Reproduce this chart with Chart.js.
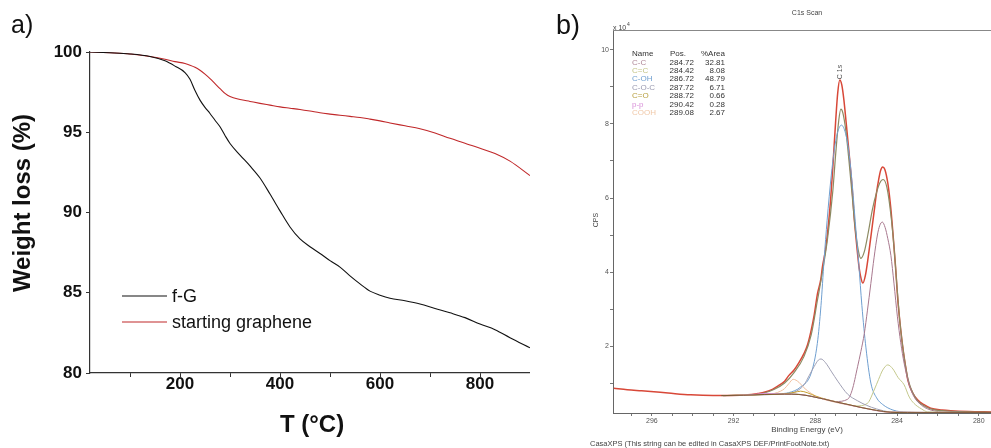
<!DOCTYPE html>
<html>
<head>
<meta charset="utf-8">
<script src="https://cdn.jsdelivr.net/npm/chart.js@4.4.0/dist/chart.umd.min.js"></script>
<style>
  body { margin: 0; background: #fff; width: 991px; height: 448px; overflow: hidden; position: relative; }
  #panelA { position: absolute; left: 0; top: 0; }
  #panelB { position: absolute; left: 530px; top: 0; }
</style>
</head>
<body>
<canvas id="panelA" width="530" height="448"></canvas>
<canvas id="panelB" width="461" height="448"></canvas>
<script>
// ------- Panel a: TGA data -------
const tempC = [20, 60, 100, 140, 170, 190, 210, 220, 230, 240, 250, 260, 270, 280, 290, 300,
  320, 340, 360, 380, 400, 420, 440, 460, 480, 500, 520, 540, 560, 580, 600, 620, 650, 680,
  710, 740, 770, 800, 830, 860, 900];
const fgWeight = [100.0, 99.95, 99.88, 99.72, 99.45, 99.12, 98.72, 98.3, 97.6, 97.0, 96.55,
  96.17, 95.75, 95.34, 94.8, 94.3, 93.58, 92.9, 92.15, 91.15, 90.1, 89.1, 88.35, 87.87, 87.45,
  87.0, 86.6, 86.05, 85.55, 85.1, 84.85, 84.66, 84.5, 84.3, 84.02, 83.75, 83.45, 83.05, 82.7,
  82.2, 81.57];
const grapheneWeight = [100.0, 99.95, 99.88, 99.72, 99.55, 99.4, 99.28, 99.18, 99.05, 98.86,
  98.62, 98.34, 98.03, 97.72, 97.42, 97.22, 97.04, 96.92, 96.8, 96.69, 96.58, 96.5, 96.42,
  96.32, 96.21, 96.13, 96.06, 95.99, 95.92, 95.82, 95.71, 95.58, 95.4, 95.22, 94.95, 94.62,
  94.32, 94.0, 93.68, 93.2, 92.3];
const tempTicks = [100, 200, 300, 400, 500, 600, 700, 800, 900];
const weightTicks = [80, 85, 90, 95, 100];
const seriesNamesA = ["f-G", "starting graphene"];

// ------- Panel b: XPS C1s data (x10^4 CPS) -------
const dataBE = [297.86, 297.2, 296.5, 296.05, 295.2, 294.1, 293.0, 292.1, 291.3, 290.8, 290.5,
  290.1, 289.8, 289.5, 289.3, 289.04, 288.8, 288.55, 288.37, 288.2, 288.05, 287.89, 287.73,
  287.65, 287.5, 287.4, 287.25, 287.14, 287.0, 286.9, 286.8, 286.7, 286.6, 286.5, 286.36,
  286.2, 286.1, 285.95, 285.85, 285.75, 285.67, 285.55, 285.43, 285.28, 285.13, 285.0, 284.9,
  284.8, 284.7, 284.6, 284.45, 284.3, 284.2, 284.08, 283.96, 283.83, 283.7, 283.58, 283.47,
  283.25, 282.98, 282.7, 282.35, 281.8, 281.37, 280.5, 279.4];
const dataCPS = [0.86, 0.82, 0.79, 0.77, 0.73, 0.68, 0.66, 0.66, 0.68, 0.72, 0.75,
  0.83, 0.93, 1.05, 1.2, 1.35, 1.55, 1.8, 2.05, 2.43, 2.85, 3.42, 3.8,
  4.14, 4.6, 5.05, 5.95, 6.84, 8.1, 8.85, 9.19, 9.05, 8.65, 8.1, 7.3,
  6.3, 5.5, 4.6, 4.1, 3.8, 3.7, 3.9, 4.32, 4.95, 5.59, 6.15, 6.49,
  6.75, 6.84, 6.78, 6.4, 5.7, 5.05, 4.2, 3.24, 2.5, 1.89, 1.45, 1.08,
  0.75, 0.54, 0.42, 0.32, 0.27, 0.25, 0.23, 0.22];

const envBE = [292.5, 291.0, 290.5, 290.0, 289.5, 289.04, 288.55, 288.2, 287.89, 287.65, 287.4,
  287.14, 287.0, 286.85, 286.75, 286.65, 286.5, 286.35, 286.2, 286.05, 285.9, 285.77, 285.6,
  285.43, 285.2, 285.0, 284.85, 284.68, 284.5, 284.3, 284.15, 284.0, 283.85, 283.7, 283.55,
  283.4, 283.2, 283.0, 282.6, 282.2, 281.5, 280.5, 279.4];
const envCPS = [0.66, 0.68, 0.73, 0.83, 1.0, 1.28, 1.72, 2.3, 3.25, 4.0, 4.9,
  6.2, 7.2, 8.1, 8.4, 8.3, 7.8, 7.0, 6.1, 5.2, 4.6, 4.37, 4.55,
  5.0, 5.7, 6.15, 6.4, 6.5, 6.3, 5.55, 4.7, 3.6, 2.6, 1.9, 1.35,
  0.98, 0.7, 0.52, 0.36, 0.28, 0.24, 0.22, 0.21];

const bgBE = [292.6, 291.5, 290.5, 289.5, 288.8, 288.2, 287.6, 287.0, 286.4, 285.77, 285.0,
  284.3, 283.5, 279.4];
const bgCPS = [0.66, 0.67, 0.69, 0.7, 0.69, 0.64, 0.57, 0.49, 0.42, 0.34, 0.26,
  0.21, 0.2, 0.2];

const cohBE = [290.5, 289.8, 289.3, 288.7, 288.2, 287.9, 287.72, 287.57, 287.42, 287.22, 287.07,
  286.92, 286.72, 286.52, 286.37, 286.22, 286.02, 285.87, 285.72, 285.52, 285.28, 285.0, 284.7,
  284.2, 283.5, 282.5, 279.4];
const cohCPS = [0.69, 0.71, 0.74, 0.9, 1.27, 2.07, 3.1, 4.32, 5.4, 6.6, 7.3,
  7.75, 7.97, 7.75, 7.3, 6.55, 5.2, 4.2, 3.1, 1.95, 1.0, 0.6, 0.42,
  0.27, 0.21, 0.2, 0.2];

const ccBE = [292.5, 289.0, 287.6, 287.0, 286.42, 286.2, 285.93, 285.77, 285.6, 285.45, 285.28,
  285.12, 284.96, 284.85, 284.72, 284.58, 284.45, 284.3, 284.15, 283.98, 283.82, 283.65, 283.4,
  283.17, 282.8, 282.5, 281.8, 279.4];
const ccCPS = [0.66, 0.7, 0.57, 0.5, 0.56, 0.8, 1.44, 1.85, 2.34, 2.95, 3.69,
  4.4, 5.0, 5.25, 5.35, 5.2, 4.9, 4.45, 3.7, 2.79, 2.1, 1.53, 0.95,
  0.63, 0.4, 0.3, 0.22, 0.2];

const cEqCBE = [292.5, 289.0, 287.6, 287.0, 286.5, 286.0, 285.45, 285.12, 284.9, 284.7, 284.45,
  284.2, 283.95, 283.65, 283.4, 283.17, 282.8, 282.5, 279.4];
const cEqCCPS = [0.66, 0.7, 0.57, 0.49, 0.43, 0.38, 0.45, 0.81, 1.1, 1.35, 1.49,
  1.38, 1.15, 0.95, 0.62, 0.45, 0.3, 0.22, 0.2];

const cocBE = [292.5, 290.0, 289.5, 289.04, 288.8, 288.55, 288.3, 288.05, 287.85, 287.72, 287.5,
  287.2, 286.9, 286.42, 285.93, 285.5, 285.0, 284.3, 279.4];
const cocCPS = [0.66, 0.69, 0.7, 0.75, 0.82, 0.95, 1.2, 1.45, 1.62, 1.65, 1.55,
  1.3, 1.05, 0.7, 0.52, 0.4, 0.3, 0.22, 0.2];

const cooBE = [292.5, 290.5, 289.5, 289.0, 288.72, 288.4, 288.0, 287.4, 286.4, 285.0, 284.3, 279.4];
const cooCPS = [0.66, 0.69, 0.71, 0.75, 0.78, 0.74, 0.65, 0.55, 0.42, 0.26, 0.21, 0.2];

const ppBE = [292.5, 291.2, 290.42, 289.6, 288.8, 288.0, 287.0, 285.77, 284.3, 279.4];
const ppCPS = [0.66, 0.68, 0.72, 0.7, 0.69, 0.62, 0.49, 0.34, 0.21, 0.2];

const coohBE = [292.5, 290.6, 290.3, 290.0, 289.7, 289.5, 289.3, 289.08, 288.8, 288.55, 288.2,
  287.8, 287.4, 286.6, 285.77, 284.3, 279.4];
const coohCPS = [0.66, 0.69, 0.7, 0.72, 0.78, 0.85, 0.98, 1.1, 1.02, 0.87, 0.72,
  0.6, 0.53, 0.43, 0.34, 0.21, 0.2];

const beTicks = [280, 281, 282, 283, 284, 285, 286, 287, 288, 289, 290, 291, 292, 293, 294, 295, 296, 297];
const cpsTicks = [1, 2, 3, 4, 5, 6, 7, 8, 9, 10];

const tableRows = [
  ["C-C", "284.72", "32.81", "#b08898"],
  ["C=C", "284.42", "8.08", "#c4c488"],
  ["C-OH", "286.72", "48.79", "#6f9fd0"],
  ["C-O-C", "287.72", "6.71", "#9a9ab0"],
  ["C=O", "288.72", "0.66", "#b8a040"],
  ["p-p", "290.42", "0.28", "#d890d8"],
  ["COOH", "289.08", "2.67", "#f0c8a8"],
];

// ------- Helpers -------
function pairs(xs, ys) {
  return xs.map((x, i) => ({ x: x, y: ys[i] }));
}

function lineSet(label, xs, ys, color, width) {
  return {
    label: label,
    data: pairs(xs, ys),
    borderColor: color,
    borderWidth: width,
    pointRadius: 0,
    fill: false,
    tension: 0.35,
    cubicInterpolationMode: "monotone",
  };
}

const FONT = '"Liberation Sans", Arial, sans-serif';

// ------- Panel a -------
const tgaDecor = {
  id: "tgaDecor",
  afterDraw(chart) {
    const { ctx } = chart;
    ctx.save();
    ctx.fillStyle = "#111";
    // panel label
    ctx.font = "25px " + FONT;
    ctx.textBaseline = "alphabetic";
    ctx.fillText("a)", 11, 33);
    // axis titles
    ctx.font = "bold 24px " + FONT;
    ctx.textAlign = "center";
    ctx.textBaseline = "middle";
    ctx.fillText("T (°C)", 312, 425);
    ctx.translate(23, 203);
    ctx.rotate(-Math.PI / 2);
    ctx.font = "bold 24px " + FONT;
    ctx.fillText("Weight loss (%)", 0, 0);
    ctx.restore();

    // legend
    ctx.save();
    const colors = ["#111", "#c0282a"];
    const ys = [296, 322];
    ctx.font = "18px " + FONT;
    ctx.textBaseline = "middle";
    seriesNamesA.forEach((name, i) => {
      ctx.strokeStyle = colors[i];
      ctx.lineWidth = 1.2;
      ctx.beginPath();
      ctx.moveTo(122, ys[i]);
      ctx.lineTo(167, ys[i]);
      ctx.stroke();
      ctx.fillStyle = "#111";
      ctx.fillText(name, 172, ys[i] + 1);
    });
    ctx.restore();
  },
};

new Chart(document.getElementById("panelA"), {
  type: "line",
  data: {
    datasets: [
      lineSet(seriesNamesA[0], tempC, fgWeight, "#111", 1.1),
      lineSet(seriesNamesA[1], tempC, grapheneWeight, "#c0282a", 1.1),
    ],
  },
  options: {
    responsive: false,
    animation: false,
    layout: { padding: { top: 52, right: 0, left: 0, bottom: 0 } },
    plugins: { legend: { display: false }, tooltip: { enabled: false } },
    scales: {
      x: {
        type: "linear",
        min: 20,
        max: 900,
        afterBuildTicks: (s) => { s.ticks = tempTicks.map((v) => ({ value: v })); },
        afterFit: (s) => { s.height = 75; },
        grid: { drawOnChartArea: false, drawTicks: true, tickLength: 4, color: "#333" },
        border: { color: "#333", width: 1.2 },
        ticks: {
          padding: -3,
          color: "#111",
          font: { family: FONT, size: 17, weight: "bold" },
          maxRotation: 0,
          callback: (v) => (v % 200 === 0 && v < 900 ? String(v) : ""),
        },
      },
      y: {
        min: 80,
        max: 100,
        afterBuildTicks: (s) => { s.ticks = weightTicks.map((v) => ({ value: v })); },
        afterFit: (s) => { s.width = 90; },
        grid: { drawOnChartArea: false, drawTicks: true, tickLength: 4, color: "#333" },
        border: { color: "#333", width: 1.2 },
        ticks: {
          padding: 4,
          color: "#111",
          font: { family: FONT, size: 17, weight: "bold" },
        },
      },
    },
  },
  plugins: [tgaDecor],
});

// ------- Panel b -------
const xpsDecor = {
  id: "xpsDecor",
  afterDraw(chart) {
    const { ctx, chartArea } = chart;
    ctx.save();
    // frame top line
    ctx.strokeStyle = "#888";
    ctx.lineWidth = 1;
    ctx.beginPath();
    ctx.moveTo(chartArea.left, chartArea.top + 0.5);
    ctx.lineTo(chartArea.right, chartArea.top + 0.5);
    ctx.stroke();

    // panel label
    ctx.fillStyle = "#111";
    ctx.font = "27px " + FONT;
    ctx.fillText("b)", 26, 34);

    ctx.fillStyle = "#444";
    ctx.font = "7px " + FONT;
    ctx.textAlign = "center";
    ctx.textBaseline = "middle";
    ctx.fillText("C1s Scan", 277, 13);
    ctx.font = "8px " + FONT;
    ctx.fillText("Binding Energy (eV)", 277, 430);
    ctx.textAlign = "left";
    ctx.font = "7.5px " + FONT;
    ctx.fillText("CasaXPS (This string can be edited in CasaXPS DEF/PrintFootNote.txt)", 60, 444);
    ctx.font = "7px " + FONT;
    ctx.fillText("x 10", 83, 28);
    ctx.font = "5px " + FONT;
    ctx.fillText("4", 97, 25);

    // rotated labels
    ctx.save();
    ctx.font = "7px " + FONT;
    ctx.textAlign = "center";
    ctx.translate(66, 220);
    ctx.rotate(-Math.PI / 2);
    ctx.fillText("CPS", 0, 0);
    ctx.restore();
    ctx.save();
    ctx.font = "7px " + FONT;
    ctx.fillStyle = "#555";
    ctx.textAlign = "center";
    ctx.translate(chart.scales.x.getPixelForValue(286.8), 72);
    ctx.rotate(-Math.PI / 2);
    ctx.fillText("C 1s", 0, 0);
    ctx.restore();

    // component table
    ctx.font = "8px " + FONT;
    ctx.textBaseline = "middle";
    const top = 54, step = 8.4;
    ctx.fillStyle = "#333";
    ctx.textAlign = "left";
    ctx.fillText("Name", 102, top);
    ctx.fillText("Pos.", 140, top);
    ctx.fillText("%Area", 171, top);
    tableRows.forEach((r, i) => {
      const y = top + step * (i + 1);
      ctx.textAlign = "left";
      ctx.fillStyle = r[3];
      ctx.fillText(r[0], 102, y);
      ctx.fillStyle = "#333";
      ctx.textAlign = "right";
      ctx.fillText(r[1], 164, y);
      ctx.fillText(r[2], 195, y);
    });
    ctx.restore();
  },
};

new Chart(document.getElementById("panelB"), {
  type: "line",
  data: {
    datasets: [
      lineSet("Background", bgBE, bgCPS, "#7a5a30", 1),
      lineSet("p-p", ppBE, ppCPS, "#d890d8", 1),
      lineSet("C=O", cooBE, cooCPS, "#c8a030", 1),
      lineSet("COOH", coohBE, coohCPS, "#f0c0a0", 1),
      lineSet("C-O-C", cocBE, cocCPS, "#a0a0b4", 1),
      lineSet("C=C", cEqCBE, cEqCCPS, "#c4c88c", 1),
      lineSet("C-C", ccBE, ccCPS, "#a8788e", 1),
      lineSet("C-OH", cohBE, cohCPS, "#6f9fd0", 1),
      lineSet("Envelope", envBE, envCPS, "#8c8a62", 1.2),
      lineSet("Data", dataBE, dataCPS, "#d84838", 1.5),
    ],
  },
  options: {
    responsive: false,
    animation: false,
    layout: { padding: { top: 30, right: 0, left: 0, bottom: 0 } },
    plugins: { legend: { display: false }, tooltip: { enabled: false } },
    scales: {
      x: {
        type: "linear",
        reverse: true,
        min: 279.4,
        max: 297.9,
        afterBuildTicks: (s) => { s.ticks = beTicks.map((v) => ({ value: v })); },
        afterFit: (s) => { s.height = 35; },
        grid: { drawOnChartArea: false, drawTicks: true, tickLength: 3, color: "#777" },
        border: { color: "#666", width: 1 },
        ticks: {
          padding: 1,
          color: "#555",
          font: { family: FONT, size: 7 },
          maxRotation: 0,
          autoSkip: false,
          callback: (v) => (v % 4 === 0 ? String(v) : ""),
        },
      },
      y: {
        min: 0.19,
        max: 10.54,
        afterBuildTicks: (s) => { s.ticks = cpsTicks.map((v) => ({ value: v })); },
        afterFit: (s) => { s.width = 83; },
        grid: { drawOnChartArea: false, drawTicks: true, tickLength: 3, color: "#777" },
        border: { color: "#666", width: 1 },
        ticks: {
          padding: 1,
          color: "#555",
          font: { family: FONT, size: 7 },
          autoSkip: false,
          callback: (v) => (v % 2 === 0 ? String(v) : ""),
        },
      },
    },
  },
  plugins: [xpsDecor],
});
</script>
</body>
</html>
